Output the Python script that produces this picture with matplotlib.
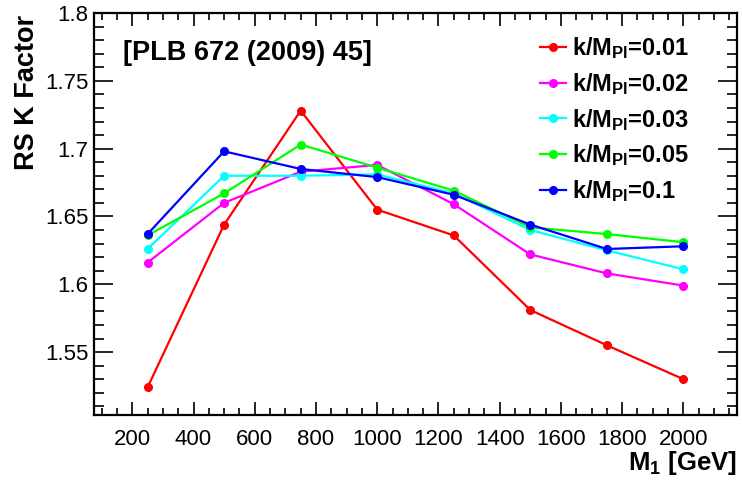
import matplotlib
matplotlib.use("Agg")
import matplotlib.pyplot as plt
from matplotlib.ticker import MultipleLocator, FuncFormatter

plt.rcParams['font.family'] = ['Liberation Sans', 'DejaVu Sans']
plt.rcParams['mathtext.fontset'] = 'custom'
plt.rcParams['mathtext.rm'] = 'Liberation Sans'
plt.rcParams['mathtext.bf'] = 'Liberation Sans:bold'
plt.rcParams['mathtext.it'] = 'Liberation Sans:italic'

mass = [250, 500, 750, 1000, 1250, 1500, 1750, 2000]
k001 = [1.524, 1.644, 1.728, 1.655, 1.636, 1.581, 1.555, 1.530]
k002 = [1.616, 1.660, 1.683, 1.688, 1.659, 1.622, 1.608, 1.599]
k003 = [1.626, 1.680, 1.680, 1.681, 1.667, 1.640, 1.625, 1.611]
k005 = [1.636, 1.667, 1.703, 1.686, 1.669, 1.642, 1.637, 1.631]
k010 = [1.637, 1.698, 1.685, 1.679, 1.666, 1.644, 1.626, 1.628]
labels = ['0.01', '0.02', '0.03', '0.05', '0.1']
colors = ['#ff0000', '#ff00ff', '#00ffff', '#00ff00', '#0000ff']
series = [k001, k002, k003, k005, k010]

fig = plt.figure(figsize=(7.42, 4.80), dpi=100)
ax = fig.add_axes([94/742, 1-415/480, (737-94)/742, (415-13)/480])

for vals, lab, col in zip(series, labels, colors):
    ax.plot(mass, vals, color=col, lw=1.6, marker='o', ms=5.5,
            label='k/M$_{\\mathbf{Pl}}$=' + lab)

ax.set_xlim(75, 2175)
ax.set_ylim(1.5036, 1.8)
ax.xaxis.set_major_locator(MultipleLocator(200))
ax.xaxis.set_minor_locator(MultipleLocator(50))
ax.yaxis.set_major_locator(MultipleLocator(0.05))
ax.yaxis.set_minor_locator(MultipleLocator(0.01))
ax.yaxis.set_major_formatter(FuncFormatter(lambda v, p: '%g' % round(v, 3)))

for s in ax.spines.values():
    s.set_linewidth(1.6)
ax.tick_params(axis='both', which='both', direction='in', top=True, right=True, width=1.2)
ax.tick_params(axis='x', which='major', length=9.5, labelsize=16, pad=10)
ax.tick_params(axis='x', which='minor', length=4.7)
ax.tick_params(axis='y', which='major', length=14, labelsize=16, pad=4)
ax.tick_params(axis='y', which='minor', length=7)

fig.text(27/742, 1-15/480, 'RS K Factor', rotation=90, ha='center', va='top',
         fontsize=19.5, fontweight='bold')
fig.text(737/742, 1-470/480, 'M$_{\\mathbf{1}}$ [GeV]', ha='right', va='baseline',
         fontsize=18.5, fontweight='bold')
fig.text(123/742, 1-53/480, '[PLB 672 (2009) 45]', ha='left', va='center',
         fontsize=19.5, fontweight='bold')

leg = ax.legend(loc='upper left', bbox_to_anchor=((540-94)/643, 1-22/402),
                frameon=False, prop={'weight': 'bold', 'size': 17},
                handlelength=1.1, handletextpad=0.25, labelspacing=0.42,
                borderaxespad=0, borderpad=0)

fig.savefig('out.png', dpi=100)
